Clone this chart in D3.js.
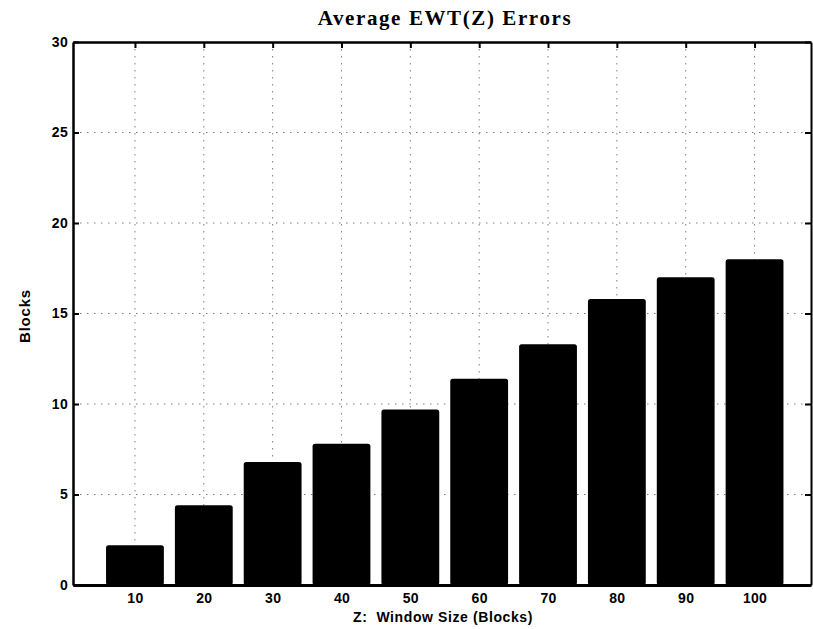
<!DOCTYPE html>
<html>
<head>
<meta charset="utf-8">
<script src="https://cdn.jsdelivr.net/npm/d3@7"></script>
<style>
  html, body { margin: 0; padding: 0; background: #fff; }
  svg { display: block; }
</style>
</head>
<body>
<svg id="chart" width="813" height="629"></svg>
<script>
// Window sizes (Z) and the average EWT(Z) error in blocks for each
const windowSizes = [10, 20, 30, 40, 50, 60, 70, 80, 90, 100];
const avgErrors   = [2.2, 4.4, 6.8, 7.8, 9.7, 11.4, 13.3, 15.8, 17.0, 18.0];
const yTicks      = [0, 5, 10, 15, 20, 25, 30];

const titleText  = "Average EWT(Z) Errors";
const xLabelText = "Z:  Window Size (Blocks)";
const yLabelText = "Blocks";

const svg = d3.select("#chart");
const plot = { left: 73, right: 811, top: 42, bottom: 585 };

const x = d3.scaleLinear().domain([1, 108.2]).range([plot.left, plot.right]);
const y = d3.scaleLinear().domain([0, 30]).range([plot.bottom, plot.top]);
const barWidth = 8.4; // in data units along x

const tickFont = "'Liberation Sans', Arial, Helvetica, sans-serif";

// dotted grid
const grid = svg.append("g").attr("stroke", "#000").attr("stroke-width", 1)
  .attr("stroke-dasharray", "1.5,5.5").attr("opacity", 0.5);
grid.selectAll("line.gx").data(windowSizes).join("line")
  .attr("x1", d => x(d)).attr("x2", d => x(d))
  .attr("y1", plot.top).attr("y2", plot.bottom);
grid.selectAll("line.gy").data(yTicks.slice(1, -1)).join("line")
  .attr("x1", plot.left).attr("x2", plot.right)
  .attr("y1", d => y(d)).attr("y2", d => y(d));

// bars
svg.append("g").selectAll("rect").data(windowSizes).join("rect")
  .attr("x", (d) => x(d - barWidth / 2))
  .attr("width", (d) => x(d + barWidth / 2) - x(d - barWidth / 2))
  .attr("y", (d, i) => y(avgErrors[i]))
  .attr("height", (d, i) => y(0) - y(avgErrors[i]))
  .attr("rx", 2.5).attr("ry", 2.5)
  .attr("fill", "#000");

// axes (box style with inward ticks)
const yLeft = d3.axisLeft(y).tickValues(yTicks).tickSizeInner(-6).tickSizeOuter(0).tickPadding(5);
const yRight = d3.axisRight(y).tickValues(yTicks).tickSizeInner(-6).tickSizeOuter(0).tickFormat("");
const xBottom = d3.axisBottom(x).tickValues(windowSizes).tickSizeInner(-6).tickSizeOuter(0).tickPadding(8);
const xTop = d3.axisTop(x).tickValues(windowSizes).tickSizeInner(-6).tickSizeOuter(0).tickFormat("");

function styleAxis(g, w) {
  g.selectAll("path.domain").attr("stroke", "#000").attr("stroke-width", w);
  g.selectAll(".tick line").attr("stroke", "#000").attr("stroke-width", 2);
  g.selectAll(".tick text").attr("fill", "#000")
    .attr("font-family", tickFont).attr("font-weight", "bold").attr("font-size", 14)
    .attr("letter-spacing", 0.3);
}

svg.append("g").attr("transform", `translate(0,${plot.top})`).call(xTop).call(g => styleAxis(g, 2.5));
svg.append("g").attr("transform", `translate(${plot.right},0)`).call(yRight).call(g => styleAxis(g, 2));
svg.append("g").attr("transform", `translate(${plot.left},0)`).call(yLeft).call(g => styleAxis(g, 2.5));
svg.append("g").attr("transform", `translate(0,${plot.bottom})`).call(xBottom).call(g => styleAxis(g, 3));

// title and axis labels
svg.append("text")
  .attr("x", 445).attr("y", 25).attr("text-anchor", "middle")
  .attr("font-family", "'Liberation Serif', 'Times New Roman', serif")
  .attr("font-weight", "bold").attr("font-size", 21).attr("letter-spacing", 1.6)
  .attr("fill", "#000")
  .text(titleText);

svg.append("text")
  .attr("x", 443).attr("y", 622).attr("text-anchor", "middle")
  .attr("font-family", tickFont).attr("font-weight", "bold").attr("font-size", 14)
  .attr("letter-spacing", 0.6)
  .attr("fill", "#000").attr("xml:space", "preserve")
  .text(xLabelText);

svg.append("text")
  .attr("transform", "translate(30,316) rotate(-90)").attr("text-anchor", "middle")
  .attr("font-family", tickFont).attr("font-weight", "bold").attr("font-size", 15)
  .attr("letter-spacing", 0.8)
  .attr("fill", "#000")
  .text(yLabelText);
</script>
</body>
</html>
